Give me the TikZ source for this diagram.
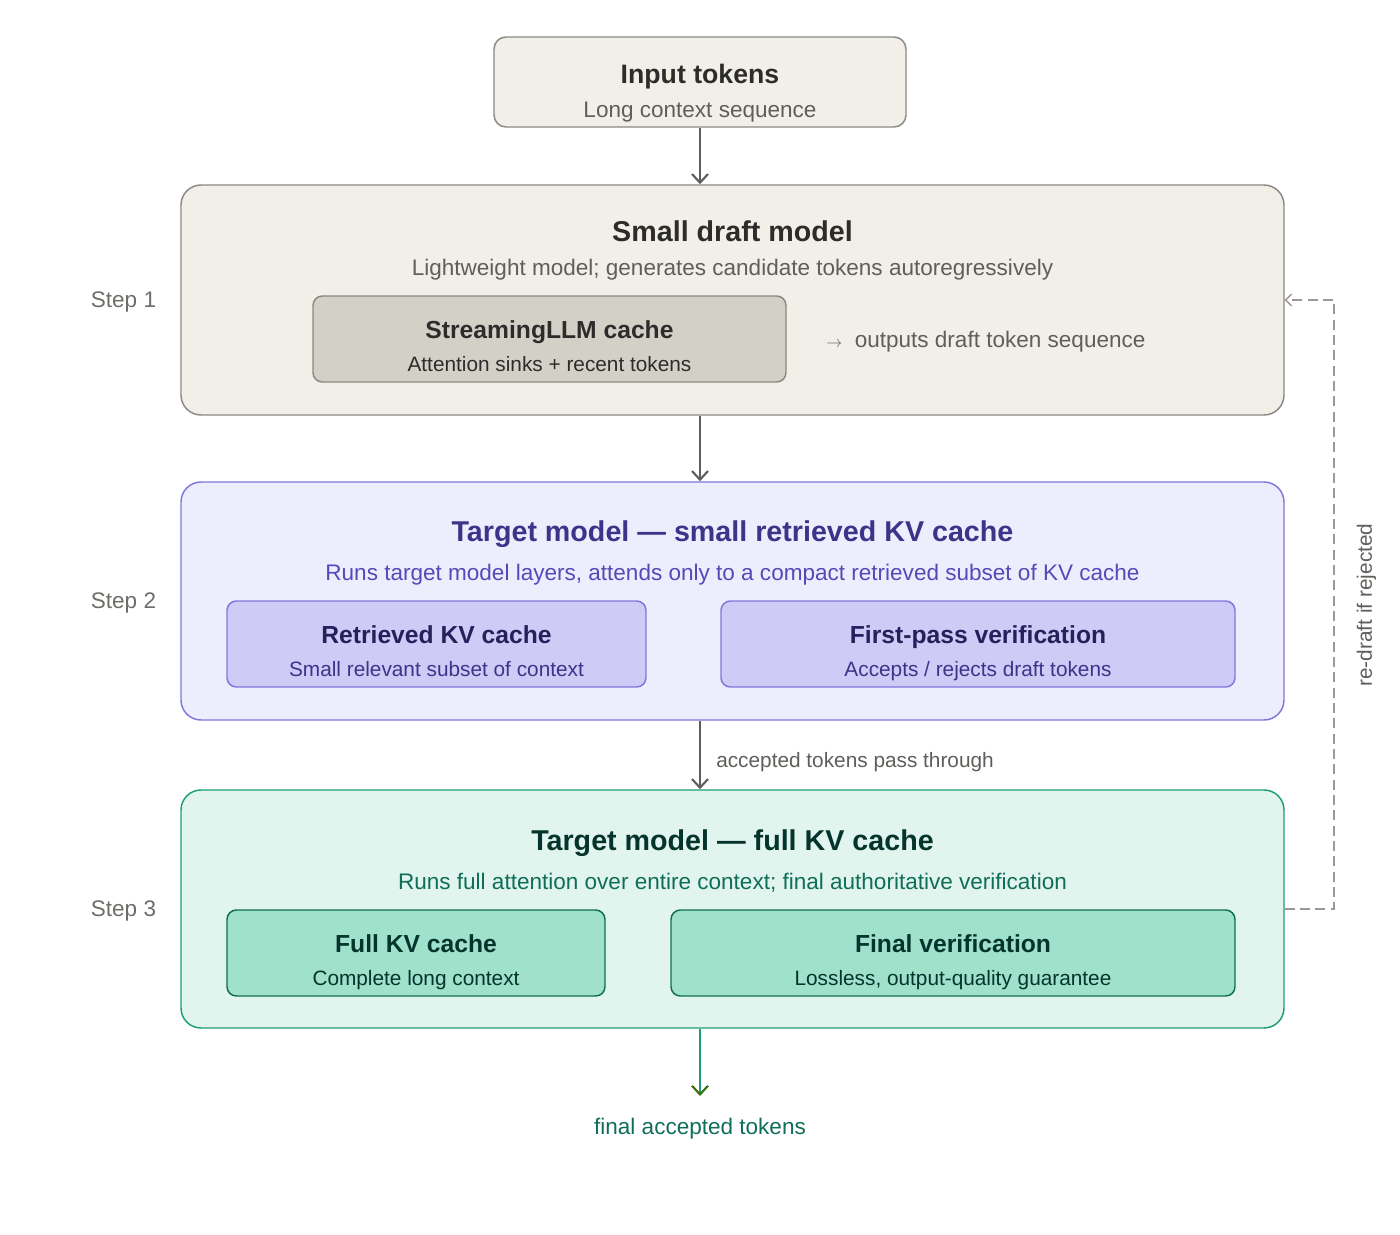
\documentclass[tikz,border=0pt]{standalone}
\usepackage{fontspec}
\setmainfont{Liberation Sans}
\usetikzlibrary{arrows.meta}
\definecolor{grayfill}{HTML}{F1EFE8}
\definecolor{graystroke}{HTML}{8A8983}
\definecolor{graydark}{HTML}{D3D1C7}
\definecolor{graytitle}{HTML}{2C2C2A}
\definecolor{graysub}{HTML}{5F5E5A}
\definecolor{steplbl}{HTML}{6E6D68}
\definecolor{arrowgray}{HTML}{5F5E5A}
\definecolor{pfill}{HTML}{EEEDFE}
\definecolor{pstroke}{HTML}{7F77DD}
\definecolor{pinner}{HTML}{CECBF6}
\definecolor{ptitle}{HTML}{3C3489}
\definecolor{psub}{HTML}{534AB7}
\definecolor{pititle}{HTML}{26215C}
\definecolor{gfill}{HTML}{E1F5EE}
\definecolor{gstroke}{HTML}{1D9E75}
\definecolor{ginner}{HTML}{9FE1CB}
\definecolor{ginstroke}{HTML}{0F6E56}
\definecolor{gtitle}{HTML}{04342C}
\definecolor{gsub}{HTML}{0F6E56}
\definecolor{garrowhead}{HTML}{3B6D11}
\definecolor{dashgray}{HTML}{9A9993}
\tikzset{
  box/.style={draw, rounded corners=#1, line width=1.1pt, inner sep=0pt},
  txt/.style={text height=0.72em, text depth=0pt, inner sep=0pt},
  big/.style={txt, font=\fontsize{21.5}{24}\selectfont\bfseries, yshift=-4.2pt},
  inbig/.style={txt, font=\fontsize{20}{24}\selectfont\bfseries, yshift=-3pt},
  mid/.style={txt, font=\fontsize{16.9}{20}\selectfont, yshift=-2.3pt},
  subt/.style={txt, font=\fontsize{18.5}{22}\selectfont\bfseries, yshift=-3pt},
  small/.style={txt, font=\fontsize{15.6}{18}\selectfont, yshift=-1.8pt},
  steplabel/.style={txt, font=\fontsize{16.9}{20}\selectfont, text=steplbl, yshift=-1.5pt},
  flow/.style={draw=arrowgray, line width=1.8pt, -{Straight Barb[length=6.5pt,width=12pt,line width=1.6pt]}},
}
\begin{document}
\begin{tikzpicture}[x=0.75pt,y=-0.75pt]
\useasboundingbox (0,0) rectangle (1400,1235);
% input
\node[box=9pt, fill=grayfill, draw=graystroke, minimum width=412*0.75pt, minimum height=90*0.75pt] (in) at (700,82) {};
\node[inbig, text=graytitle] (inT) at (700,75) {Input tokens};
\node[mid, text=graysub] (inS) at (700,110) {Long context sequence};
% step 1
\node[box=15pt, fill=grayfill, draw=graystroke, minimum width=1103*0.75pt, minimum height=230*0.75pt] (s1) at (732.5,300) {};
\node[big, text=graytitle] (s1T) at (732.5,231) {Small draft model};
\node[mid, text=graysub] (s1S) at (732.5,268) {Lightweight model; generates candidate tokens autoregressively};
\node[box=7pt, fill=graydark, draw=graystroke, minimum width=473*0.75pt, minimum height=86*0.75pt] (sl) at (549.5,339) {};
\node[subt, text=graytitle] (slT) at (549.5,330) {StreamingLLM cache};
\node[small, text=graytitle] (slS) at (549.5,364) {Attention sinks + recent tokens};
\node[mid, text=graysub, anchor=west] (out) at (826,340) {{\fontsize{12}{14}\selectfont$\rightarrow$}\ \ outputs draft token sequence};
\node[steplabel] (st1) at (123.5,301) {Step 1};
% step 2
\node[box=15pt, fill=pfill, draw=pstroke, minimum width=1103*0.75pt, minimum height=238*0.75pt] (s2) at (732.5,601) {};
\node[big, text=ptitle] (s2T) at (732.5,531) {Target model — small retrieved KV cache};
\node[mid, text=psub] (s2S) at (732.5,573) {Runs target model layers, attends only to a compact retrieved subset of KV cache};
\node[box=7pt, fill=pinner, draw=pstroke, minimum width=419*0.75pt, minimum height=86*0.75pt] (rk) at (436.5,644) {};
\node[subt, text=pititle] (rkT) at (436.5,635) {Retrieved KV cache};
\node[small, text=ptitle] (rkS) at (436.5,669) {Small relevant subset of context};
\node[box=7pt, fill=pinner, draw=pstroke, minimum width=514*0.75pt, minimum height=86*0.75pt] (fp) at (978,644) {};
\node[subt, text=pititle] (fpT) at (978,635) {First-pass verification};
\node[small, text=ptitle] (fpS) at (978,669) {Accepts / rejects draft tokens};
\node[steplabel] (st2) at (123.5,602) {Step 2};
% step 3
\node[box=15pt, fill=gfill, draw=gstroke, minimum width=1103*0.75pt, minimum height=238*0.75pt] (s3) at (732.5,909) {};
\node[big, text=gtitle] (s3T) at (732.5,840) {Target model — full KV cache};
\node[mid, text=gsub] (s3S) at (732.5,882) {Runs full attention over entire context; final authoritative verification};
\node[box=7pt, fill=ginner, draw=ginstroke, minimum width=378*0.75pt, minimum height=86*0.75pt] (fk) at (416,953) {};
\node[subt, text=gtitle] (fkT) at (416,944) {Full KV cache};
\node[small, text=gtitle] (fkS) at (416,978) {Complete long context};
\node[box=7pt, fill=ginner, draw=ginstroke, minimum width=564*0.75pt, minimum height=86*0.75pt] (fv) at (953,953) {};
\node[subt, text=gtitle] (fvT) at (953,944) {Final verification};
\node[small, text=gtitle] (fvS) at (953,978) {Lossless, output-quality guarantee};
\node[steplabel] (st3) at (123.5,910) {Step 3};
% arrows
\draw[flow] (in.south) -- (s1.north -| in.south);
\draw[flow] (s1.south -| in.south) -- (s2.north -| in.south);
\draw[flow] (s2.south -| in.south) -- (s3.north -| in.south);
\node[small, text=graysub, anchor=west] (acc) at (716,760) {accepted tokens pass through};
\coordinate (fin) at (700,1096);
\draw[draw=gstroke, line width=1.8pt, -{Straight Barb[length=6.5pt,width=12pt,line width=1.6pt,color=garrowhead]}] (s3.south -| in.south) -- (fin);
\node[mid, text=gsub] (finT) at (700,1127) {final accepted tokens};
% feedback
\coordinate (fbA) at (1334,909);
\coordinate (fbB) at (1334,300);
\draw[draw=dashgray, line width=1.1pt, dash pattern=on 7.5pt off 4pt, -{Straight Barb[length=4.5pt,width=9pt,line width=1pt]}] (s3.east) -- (fbA) -- (fbB) -- (s1.east);
\node[txt, font=\fontsize{15.6}{18}\selectfont, text=graysub, rotate=90] (redraft) at (1367,605) {re-draft if rejected};
\end{tikzpicture}
\end{document}
